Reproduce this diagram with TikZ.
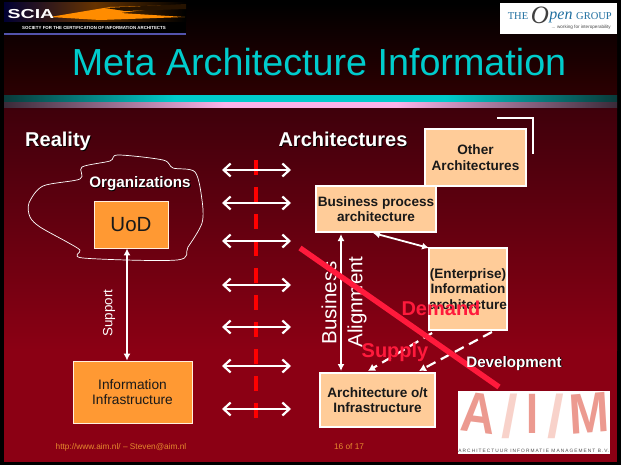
\documentclass[tikz,border=0pt]{standalone}
\usepackage{fontspec}
\setmainfont{Liberation Sans}
\newfontfamily\serifpart{Liberation Serif}
\usetikzlibrary{arrows.meta}
\definecolor{slidered}{HTML}{8B0014}
\definecolor{slidetop}{HTML}{3F000B}
\definecolor{deeptop}{HTML}{330002}
\definecolor{boxorange}{HTML}{FF9933}
\definecolor{boxpeach}{HTML}{FFCC99}
\definecolor{titlecyan}{HTML}{00CCCC}
\definecolor{bandteal}{HTML}{0A3A3A}
\definecolor{bandpink}{HTML}{FBB4EA}
\definecolor{banddark}{HTML}{3A2A38}
\definecolor{signred}{HTML}{FF1A3C}
\definecolor{aimpink}{HTML}{EC9A90}
\definecolor{aimpale}{HTML}{F8D2CA}
\definecolor{opblue}{HTML}{1F6FA0}
\pgfdeclarehorizontalshading{tealband}{100bp}{color(0bp)=(bandteal); color(25bp)=(bandteal); color(39bp)=(titlecyan); color(61bp)=(titlecyan); color(75bp)=(bandteal); color(100bp)=(bandteal)}
\pgfdeclarehorizontalshading{pinkband}{100bp}{color(0bp)=(banddark); color(25bp)=(banddark); color(43bp)=(bandpink); color(57bp)=(bandpink); color(75bp)=(banddark); color(100bp)=(banddark)}
\newcommand{\fsize}[1]{\fontsize{#1}{1.15\dimexpr #1pt\relax}\selectfont}
\newcommand{\shadowed}[1]{\rlap{\kern0.9pt\raisebox{-0.9pt}{\color{black}#1}}#1}

\begin{document}
\begin{tikzpicture}[x=1pt, y=-1pt,
  darkblock/.style={rectangle, draw=white!85!boxorange, fill=boxorange, line width=0.8pt, inner sep=0pt, align=center, text=black!90},
  lightblock/.style={rectangle, draw=white, fill=boxpeach, line width=2pt, inner sep=0pt, align=center, text=black!90, font=\fsize{13.6}\bfseries},
  heading/.style={text=white, font=\fsize{20}\bfseries, anchor=base, inner sep=0pt},
  redword/.style={text=signred, font=\fsize{20}\bfseries, anchor=base, inner sep=0pt},
  sideword/.style={text=white!90, rotate=90, inner sep=0pt},
  twoway/.style={draw=white, line width=2.2pt, {Straight Barb[length=7pt,width=13pt]}-{Straight Barb[length=7pt,width=13pt]}},
  link/.style={draw=white, line width=1.8pt, {Latex[length=7pt,width=7pt]}-{Latex[length=7pt,width=7pt]}},
  dashlink/.style={draw=white, line width=2.2pt, dash pattern=on 10pt off 6pt, -{Latex[length=7pt,width=8pt]}},
  aimword/.style={text=aimpink, font=\fsize{57}\bfseries, inner sep=0pt, anchor=base, xscale=0.84}]

  \useasboundingbox (0,0) rectangle (621,465);

  % slide
  \fill[black] (0,0) rectangle (621,465);
  \shade[top color=black, bottom color=deeptop] (4,3) rectangle (617,109);
  \shade[top color=slidetop, bottom color=slidered] (4,109) rectangle (617,350);
  \fill[slidered] (4,350) rectangle (617,462);
  \shade[shading=tealband] (4,96) rectangle (617,102);
  \shade[shading=pinkband] (4,103) rectangle (617,108);

  % SCIA logo
  \fill[black] (4,3) rectangle (186,33);
  \shade[left color=black!80!blue, right color=orange!40!black] (4,3) rectangle (95,22);
  \shade[left color=orange!40!black, right color=black] (95,3) rectangle (186,22);
  \fill[orange!90!yellow] (50,17) -- (110,7) -- (185,5) -- (120,13) -- (185,17) -- (100,20) -- cycle;
  \fill[black!85!orange] (105,8) -- (186,4) -- (186,9) -- (125,11) -- cycle;
  \fill[blue!35!gray] (4,33) rectangle (186,35);
  \node[text=white, font=\fsize{13}\bfseries, inner sep=0pt, xscale=1.5] (scia) at (31,14) {SCIA};
  \node[text=white!85, font=\fsize{4.4}\bfseries, inner sep=0pt] (sciatext) at (94,28) {SOCIETY FOR THE CERTIFICATION OF INFORMATION ARCHITECTS};

  % Open Group logo
  \fill[white] (500,3) rectangle (617,34);
  \node[text=opblue, font=\serifpart\fsize{10.5}, inner sep=0pt, anchor=base] (opthe) at (518,20) {THE};
  \node[text=black!75, font=\serifpart\fsize{25}\itshape, inner sep=0pt, anchor=base] (opo) at (540,24) {O};
  \node[text=opblue, font=\serifpart\fsize{16}\itshape, inner sep=0pt, anchor=base] (oppen) at (561,20) {pen};
  \node[text=opblue, font=\serifpart\fsize{10.5}, inner sep=0pt, anchor=base] (opgroup) at (594,20) {GROUP};
  \node[text=black!70, font=\fsize{4.6}, inner sep=0pt, anchor=base east] (optag) at (611,29) {... working for interoperability};

  % title
  \node[text=titlecyan, font=\fsize{37.7}, inner sep=0pt, anchor=base] (title) at (319,76) {Meta Architecture Information};

  \node[heading] (reality) at (58,147) {\shadowed{Reality}};
  \node[heading] (archs) at (343,147) {\shadowed{Architectures}};

  % organizations cloud
  \draw[white, line width=0.7pt] plot[smooth cycle, tension=0.5] coordinates {(118,155) (110,161) (82,167) (80,179) (43,186) (29,203) (30,217) (40,227) (67,242) (80,250) (83,258) (177,260) (188,247) (202,223) (202,200) (195,172) (173,168) (163,160)};
  \node[text=white, font=\fsize{15.2}\bfseries, inner sep=0pt, anchor=base] (orgs) at (140,188) {\shadowed{Organizations}};

  \node[darkblock, minimum width=74pt, minimum height=47pt, font=\fsize{20.5}] (uod) at (131,224.5) {UoD};
  \node[darkblock, minimum width=119pt, minimum height=62pt, font=\fsize{13.7}] (infra) at (132.5,392) {Information\\Infrastructure};
  \draw[link] ([xshift=-4pt]uod.south) -- ([xshift=-5.5pt]infra.north);
  \node[sideword, font=\fsize{13.4}] (support) at (109,313) {Support};

  % separator and crossing arrows
  \draw[red, line width=4.5pt, dash pattern=on 15pt off 12pt] (256,160) -- (256,420);
  \foreach \ypos [count=\i] in {170,203,241,285,327,366,409} {
    \coordinate (left\i) at (222,\ypos);
    \coordinate (right\i) at (291,\ypos);
    \draw[twoway] (left\i) -- (right\i);
  }

  % architecture boxes
  \draw[white, line width=2pt] (497,118) -- (533,118) -- (533,154);
  \node[lightblock, minimum width=101pt, minimum height=57pt] (other) at (475.5,157.5) {Other\\Architectures};
  \node[lightblock, minimum width=120pt, minimum height=46pt] (bizproc) at (376,209) {Business process\\architecture};
  \node[lightblock, minimum width=76pt, minimum height=82pt] (enterprise) at (468,289) {(Enterprise)\\Information\\architecture};
  \node[lightblock, minimum width=115pt, minimum height=54pt] (archinfra) at (377.5,400) {Architecture o/t\\Infrastructure};

  \draw[link] ([xshift=-3pt]bizproc.south) -- ([xshift=1pt, yshift=-1pt]enterprise.north west);
  \draw[link] ([xshift=26pt, yshift=-1pt]bizproc.south west) -- ([xshift=22pt, yshift=1pt]archinfra.north west);
  \draw[dashlink] ([xshift=4pt, yshift=-2pt]enterprise.south west) -- ([xshift=49pt, yshift=1pt]archinfra.north west);
  \draw[dashlink] ([xshift=-16pt, yshift=-1pt]enterprise.south east) -- ([xshift=100pt, yshift=1pt]archinfra.north west);

  \node[sideword, font=\fsize{20.5}, text=white!90] (business) at (329,303) {Business};
  \node[sideword, font=\fsize{20.5}, text=white!90] (alignment) at (357,302) {Alignment};

  % demand / supply border
  \coordinate (borderstart) at (300,248);
  \coordinate (borderend) at (499,387);
  \draw[signred, line width=5.5pt] (borderstart) -- (borderend);
  \node[redword] (demand) at (441,315) {Demand};
  \node[redword] (supply) at (395,357) {Supply};
  \node[text=white, font=\fsize{15.2}\bfseries, inner sep=0pt, anchor=base] (develop) at (514,367) {\shadowed{Development}};

  % AIM logo
  \fill[white] (458,391) rectangle (610,454);
  \node[aimword, rotate=-6] (aima) at (477,433) {A};
  \node[aimword, text=aimpale, font=\fsize{60}\bfseries, xscale=1.19] (aimslasha) at (510,437) {/};
  \node[aimword, xscale=0.9] (aimi) at (532,433) {I};
  \node[aimword, text=aimpale, font=\fsize{60}\bfseries, xscale=1.19] (aimslashb) at (556,437) {/};
  \node[aimword, rotate=4] (aimm) at (590,433) {M};
  \node[text=black!70, font=\fsize{4.8}\addfontfeature{LetterSpace=22}, inner sep=0pt] (aimtext) at (534,451) {ARCHITECTUUR INFORMATIE MANAGEMENT B.V.};

  % footer
  \node[text=boxorange!90!black, font=\fsize{8.3}, inner sep=0pt, anchor=base] (foota) at (121,449) {http://www.aim.nl/ -- Steven@aim.nl};
  \node[text=boxorange!90!black, font=\fsize{8.3}, inner sep=0pt, anchor=base] (footb) at (349,449) {16 of 17};
\end{tikzpicture}
\end{document}
